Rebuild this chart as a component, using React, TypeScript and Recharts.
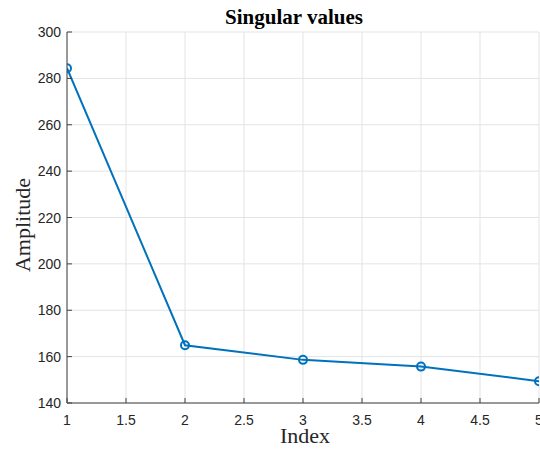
import React from 'react';
import { LineChart, Line, XAxis, YAxis, CartesianGrid } from 'recharts';

// Singular values by index
const indices = [1, 2, 3, 4, 5];
const amplitudes = [284.4, 164.9, 158.6, 155.7, 149.4];

const xTicks = [1, 1.5, 2, 2.5, 3, 3.5, 4, 4.5, 5];
const yTicks = [140, 160, 180, 200, 220, 240, 260, 280, 300];

const data = indices.map((idx, i) => ({ idx, amp: amplitudes[i] }));

const AXIS = '#404040';
const TEXT = '#262626';
const SANS = '"Liberation Sans", Arial, sans-serif';
const SERIF = '"Liberation Serif", "Times New Roman", serif';
const TICK_LEN = 5;

const fmt = (v: number) => String(v);

const BottomTick = (props: any) => {
  const { x, y, payload } = props;
  return (
    <g>
      <line x1={x} y1={y} x2={x} y2={y - TICK_LEN} stroke={AXIS} strokeWidth={1} />
      <text x={x} y={y + 22} textAnchor="middle" fill={TEXT} fontFamily={SANS} fontSize={14}>
        {fmt(payload.value)}
      </text>
    </g>
  );
};

const TopTick = (props: any) => {
  const { x, y } = props;
  return <line x1={x} y1={y} x2={x} y2={y + TICK_LEN} stroke={AXIS} strokeWidth={1} />;
};

const LeftTick = (props: any) => {
  const { x, y, payload } = props;
  return (
    <g>
      <line x1={x} y1={y} x2={x + TICK_LEN} y2={y} stroke={AXIS} strokeWidth={1} />
      <text x={x - 6} y={y + 5} textAnchor="end" fill={TEXT} fontFamily={SANS} fontSize={14}>
        {fmt(payload.value)}
      </text>
    </g>
  );
};

const RightTick = (props: any) => {
  const { x, y } = props;
  return <line x1={x} y1={y} x2={x - TICK_LEN} y2={y} stroke={AXIS} strokeWidth={1} />;
};

export default function App() {
  return (
    <div style={{ position: 'absolute', left: 0, top: 0, background: '#fff' }}>
      <LineChart
        width={540}
        height={449}
        data={data}
        margin={{ top: 32, right: 1, bottom: 0, left: 0 }}
      >
        <CartesianGrid stroke="#e3e3e3" strokeWidth={1} />
        <XAxis
          dataKey="idx"
          type="number"
          domain={[1, 5]}
          ticks={xTicks}
          height={46}
          stroke={AXIS}
          tickSize={0}
          tickMargin={0}
          tick={<BottomTick />}
          interval={0}
          allowDataOverflow
        />
        <XAxis
          xAxisId="top"
          orientation="top"
          dataKey="idx"
          type="number"
          domain={[1, 5]}
          ticks={xTicks}
          height={0}
          stroke={AXIS}
          tickSize={0}
          tickMargin={0}
          tick={<TopTick />}
          interval={0}
        />
        <YAxis
          type="number"
          domain={[140, 300]}
          ticks={yTicks}
          width={67}
          stroke={AXIS}
          tickSize={0}
          tickMargin={0}
          tick={<LeftTick />}
          interval={0}
          allowDataOverflow
        />
        <YAxis
          yAxisId="right"
          orientation="right"
          type="number"
          domain={[140, 300]}
          ticks={yTicks}
          width={0}
          stroke={AXIS}
          tickSize={0}
          tickMargin={0}
          tick={<RightTick />}
          interval={0}
        />
        <Line
          dataKey="amp"
          stroke="#0072BD"
          strokeWidth={2}
          dot={{ r: 4, stroke: '#0072BD', strokeWidth: 2, fill: 'none' }}
          activeDot={false}
          isAnimationActive={false}
        />
        <text x={294} y={24} textAnchor="middle" fill="#000" fontFamily={SERIF} fontSize={21} fontWeight="bold">
          Singular values
        </text>
        <text x={305} y={443} textAnchor="middle" fill={TEXT} fontFamily={SERIF} fontSize={22}>
          Index
        </text>
        <text
          x={0}
          y={0}
          transform="translate(30, 225) rotate(-90)"
          textAnchor="middle"
          fill={TEXT}
          fontFamily={SERIF}
          fontSize={22}
        >
          Amplitude
        </text>
      </LineChart>
    </div>
  );
}
